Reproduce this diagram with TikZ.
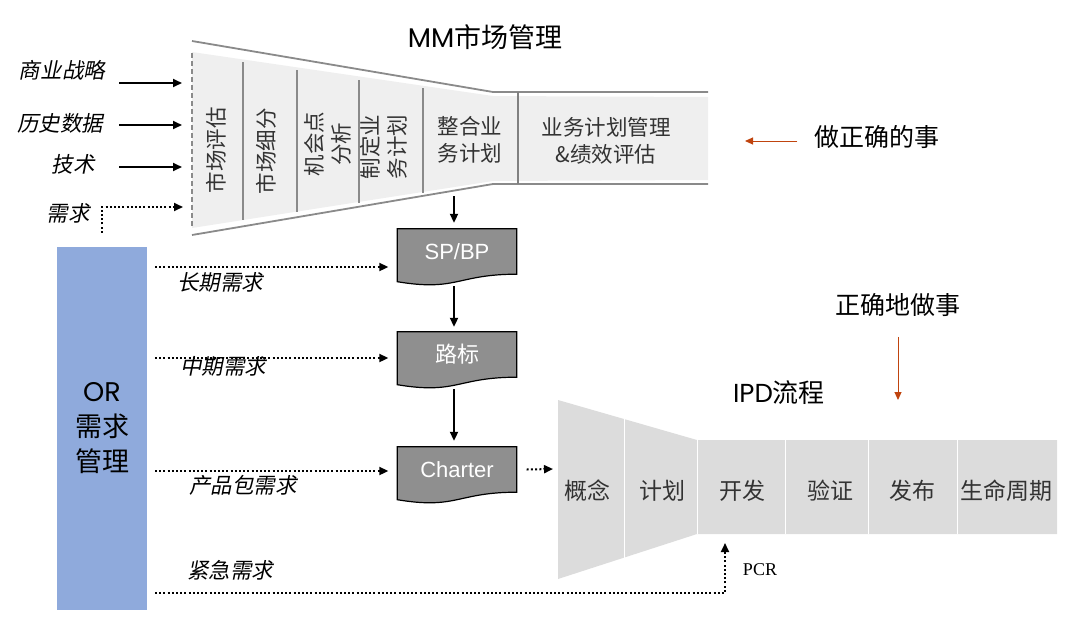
\documentclass[tikz,border=0pt]{standalone}
\usepackage{fontspec}
\setmainfont{Noto Sans CJK SC}
\newfontfamily\geofont{Poppins}
\newfontfamily\arialfont{Liberation Sans}
\newfontfamily\pcrfont{Liberation Serif}
\newfontfamily\slantfont[FakeSlant=0.2]{Noto Sans CJK SC}
\usetikzlibrary{arrows.meta,calc,backgrounds}
\definecolor{orblue}{HTML}{8FAADC}
\definecolor{docgray}{HTML}{8F8F8F}
\definecolor{mmgray}{HTML}{EFEFEF}
\definecolor{ipdgray}{HTML}{DCDCDC}
\definecolor{edgegray}{HTML}{8A8A8A}
\definecolor{hint}{HTML}{C0440E}
\definecolor{ink}{HTML}{333333}

\begin{document}
\begin{tikzpicture}[x=1pt, y=-1pt,
  arr/.style={-{Triangle[length=9pt,width=8pt]}, line width=2pt},
  dots/.style={arr, dash pattern=on 2pt off 2.2pt},
  redarr/.style={-{Triangle[length=8pt,width=7pt]}, line width=1pt, hint},
  head/.style={inner sep=0pt, font=\fontsize{27}{30}\selectfont},
  cell/.style={inner sep=0pt, align=center, text=ink, font=\fontsize{21.5}{27}\selectfont},
  vcell/.style={cell, rotate=90},
  inlabel/.style={inner sep=0pt, font=\slantfont\fontsize{21.5}{26}\selectfont},
  stage/.style={inner sep=0pt, text=ink, font=\fontsize{23}{26}\selectfont},
  doc/.style={minimum width=119pt, minimum height=45pt, inner sep=0pt, text=white, font=\arialfont\fontsize{22}{24}\selectfont},
]
\useasboundingbox (0,0) rectangle (1068,627);

% MM funnel
\fill[mmgray] (192,52) -- (493,96) -- (708,97) -- (708,180) -- (493,181) -- (192,228) -- cycle;
\draw[edgegray, line width=1.8pt] (192,41) -- (493,92) -- (708,92);
\draw[edgegray, line width=1.8pt] (192,235) -- (493,184) -- (708,184);
\draw[edgegray, line width=1.2pt, dash pattern=on 5pt off 3pt] (192,53) -- (192,227);
\foreach \x/\a/\b in {243/62/220, 297/70/212, 359/80/203, 423/88/193}
  \draw[edgegray, line width=1.5pt] (\x,\a) -- (\x,\b);
\draw[gray, line width=1.8pt] (518,92) -- (518,184);

\node[head] (mm) at (485,37) {{\geofont MM}市场管理};
\node[vcell] (assess) at (216,150) {市场评估};
\node[vcell] (segment) at (266,151) {市场细分};
\node[vcell] (chance) at (328,144) {机会点\\分析};
\node[vcell] (plan) at (384,147) {制定业\\务计划};
\node[cell] (merge) at (470,140) {整合业\\务计划};
\node[cell] (manage) at (606,141) {业务计划管理\\\&绩效评估};

% inputs
\node[inlabel] (strategy) at (62,70) {商业战略};
\node[inlabel] (history) at (60,123) {历史数据};
\node[inlabel] (tech) at (73,164) {技术};
\node[inlabel] (need) at (68,213) {需求};
\foreach \y [count=\i] in {83,125,167} {
  \coordinate (src\i) at (119,\y);
  \coordinate (dst\i) at (182,\y);
  \draw[arr] (src\i) -- (dst\i);
}

% OR
\node[fill=orblue, minimum width=90pt, minimum height=363pt, align=center,
  font=\fontsize{27}{35}\selectfont] (orbox) at (102,428.5) {{\geofont OR}\\需求\\管理};
\coordinate (needto) at (183,207);
\draw[dots] ([yshift=14pt]orbox.north) |- (needto);

% documents
\node[doc] (spbp) at (457,251.5) {SP/BP};
\node[doc] (road) at (457,354.5) {\rmfamily 路标};
\node[doc] (charter) at (457,469.5) {Charter};
\begin{scope}[on background layer]
\foreach \d in {spbp,road,charter}
  \draw[fill=docgray, line width=1.2pt] (\d.north west) -- (\d.north east) -- (\d.south east)
    .. controls (\d.south) and ($(\d.south)+(0,17.5)$) .. ($(\d.south west)+(0,7.5)$) -- cycle;
\end{scope}
\coordinate (mmout) at (454,196);
\draw[arr, shorten >=6pt] (mmout) -- (mmout |- spbp.north);
\path[arr]
([xshift=-3pt]spbp.south) edge[shorten <=12pt, shorten >=5pt] ([xshift=-3pt]road.north)
([xshift=-3pt]road.south) edge[shorten <=12pt, shorten >=6pt] ([xshift=-3pt]charter.north);

% requirement flows
\coordinate (r1) at (155,267);
\coordinate (r2) at (155,358);
\coordinate (r3) at (155,471);
\coordinate (r4) at (155,593);
\draw[dots, shorten >=9pt] (r1) -- (r1 -| spbp.west);
\draw[dots, shorten >=9pt] (r2) -- (r2 -| road.west);
\draw[dots, shorten >=9pt] (r3) -- (r3 -| charter.west);
\node[inlabel] (longreq) at (220,282) {长期需求};
\node[inlabel] (midreq) at (223,366) {中期需求};
\node[inlabel] (pkgreq) at (243,485) {产品包需求};
\node[inlabel] (urgreq) at (230,570) {紧急需求};

% IPD funnel
\fill[ipdgray] (558,400) -- (697,440) -- (1057,440) -- (1057,534) -- (697,534) -- (558,579) -- cycle;
\foreach \x/\a/\b in {624/419/558, 697/440/534, 785/440/534, 868/440/534, 957/440/534}
  \draw[white, line width=1pt] (\x,\a) -- (\x,\b);
\node[head, font=\fontsize{26}{30}\selectfont] (ipd) at (779,393) {{\geofont IPD}流程};
\foreach \x/\t [count=\i] in {587/概念, 662/计划, 742/开发, 830/验证, 912/发布, 1006/生命周期}
  \node[stage] (st\i) at (\x,491) {\t};
\coordinate (ipdin) at (553,469);
\draw[dots] ([xshift=10pt]charter.east) -- (ipdin);
\coordinate (pcr) at (725,543);
\draw[dots] (r4) -| (pcr);
\node[inner sep=0pt, font=\pcrfont\fontsize{18}{20}\selectfont] (pcrlabel) at (760,570) {PCR};

% hints
\node[inner sep=0pt, font=\fontsize{25}{28}\selectfont] (doright) at (877,137) {做正确的事};
\node[inner sep=0pt, font=\fontsize{25}{28}\selectfont] (rightdo) at (898,305) {正确地做事};
\coordinate (mmhint) at (745,141);
\coordinate (ipdhint) at (898,400);
\draw[redarr] ([xshift=-17pt]doright.west |- mmhint) -- (mmhint);
\draw[redarr] ([yshift=-20pt]rightdo.south) -- (ipdhint);
\end{tikzpicture}
\end{document}
